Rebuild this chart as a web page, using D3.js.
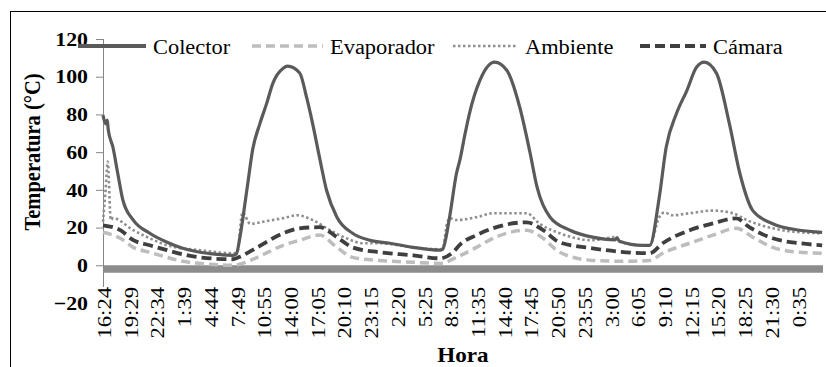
<!DOCTYPE html>
<html>
<head>
<meta charset="utf-8">
<script src="https://cdn.jsdelivr.net/npm/d3@7"></script>
<style>
  body { margin: 0; background: #fff; }
  text { font-family: "Liberation Serif", "Times New Roman", serif; }
</style>
</head>
<body>
<div id="chart"></div>
<script>
// hours elapsed since 16:24 and temperatures (°C)
var colectorH = [0, 0.3, 0.5, 0.6, 1.15, 1.7, 2.3, 3.5, 5.4, 7.4, 9.2, 11.2, 13.2, 15.0, 15.4, 15.8, 16.6, 17.3, 18.1, 18.9, 19.6, 20.8, 21.3, 22.7, 23.5, 24.2, 25.0, 25.8, 27.0, 28.8, 30.8, 33.1, 35.8, 38.9, 39.2, 40.0, 40.8, 41.2, 41.8, 42.3, 43.5, 45.2, 46.6, 48.1, 49.3, 50.1, 51.6, 53.9, 56.5, 59.1, 59.3, 59.6, 62.3, 63.1, 64.2, 65.0, 66.2, 67.4, 68.5, 69.4, 70.8, 72.3, 73.5, 75.0, 77.3, 80.4, 83.0];
var colectorT = [79.6, 75, 77, 72, 62.6, 48.8, 34.5, 23.9, 17, 12.2, 9, 6.9, 5.8, 5.3, 6, 14.8, 39.8, 62, 75, 86, 96.5, 104.5, 105.6, 102, 89, 75, 57, 39.8, 25.5, 17, 13.3, 11.7, 9.5, 8, 8.5, 25.5, 48.8, 56, 70, 80.6, 98, 107.7, 103.4, 83.8, 59.4, 41.4, 25.5, 18.6, 14.9, 13.5, 14.5, 12.8, 10.6, 10.6, 36, 62.6, 80.6, 92.8, 105, 107.7, 101.9, 75, 48.8, 29, 22, 18.6, 17.5];

var evaporadorH = [0, 2.0, 3.5, 5.4, 7.4, 9.2, 11.2, 15.0, 16.1, 17.8, 20.8, 22.7, 25.0, 27.0, 28.8, 31.9, 35.8, 38.9, 40.8, 43.1, 45.0, 48.9, 50.8, 52.7, 56.5, 60.4, 63.1, 64.6, 67.7, 70.4, 73.1, 75.0, 77.3, 80.4, 83.0];
var evaporadorT = [17.5, 14.3, 9.5, 6.9, 4.2, 2.1, 1, 0, 1, 4.2, 10.6, 13.3, 16, 9.5, 4.2, 2.6, 1.6, 1, 4.2, 9.5, 14.3, 18.6, 14.3, 6.9, 2.6, 2.1, 2.6, 6.4, 11.7, 16, 19.6, 14.9, 9.5, 6.9, 6.4];

var ambienteH = [0, 0.3, 0.55, 0.9, 1.15, 3.5, 5.4, 7.4, 11.2, 15.0, 15.5, 16.1, 17.0, 18.9, 20.8, 22.4, 24.2, 26.2, 28.1, 30.0, 31.9, 35.8, 38.9, 39.2, 39.7, 40.0, 40.8, 43.1, 45.0, 48.9, 50.4, 52.7, 56.5, 59.3, 59.6, 62.3, 63.1, 64.2, 64.8, 65.7, 67.7, 70.4, 72.7, 74.3, 77.3, 80.4, 83.0];
var ambienteT = [23, 40, 55, 24, 25, 18.6, 14.3, 10.6, 8, 6.4, 7, 28, 22, 23.5, 25, 26.5, 24, 18.6, 14.3, 11.7, 11.7, 9.5, 8.5, 9, 22, 25, 24, 25.5, 27.6, 27.6, 22, 17, 13.3, 15, 12.5, 10.6, 10.6, 25.5, 28, 26.5, 27.6, 29, 27.6, 24, 19.6, 17.5, 17];

var camaraH = [0, 2.0, 3.5, 5.4, 7.4, 9.2, 11.2, 15.0, 15.8, 17.8, 20.8, 22.7, 25.0, 27.0, 28.8, 31.9, 35.8, 38.9, 40.4, 41.2, 43.1, 45.0, 48.9, 50.8, 52.7, 56.5, 60.4, 63.1, 64.6, 67.7, 70.4, 73.1, 74.6, 77.3, 80.4, 83.0];
var camaraT = [21.2, 18.6, 13.3, 10.6, 8, 5.8, 4.2, 3.2, 4.5, 9.5, 17, 19.6, 20.2, 14.9, 9.5, 6.9, 5.3, 3.7, 6.9, 11, 16, 19.6, 22.8, 18.6, 12.2, 9, 6.9, 6.4, 11.7, 18.6, 22.2, 24.9, 20.2, 14.3, 11.7, 10.6];

var seriesNames = ["Colector", "Evaporador", "Ambiente", "Cámara"];
var hourLabels = ["16:24", "19:29", "22:34", "1:39", "4:44", "7:49", "10:55", "14:00", "17:05", "20:10", "23:15", "2:20", "5:25", "8:30", "11:35", "14:40", "17:45", "20:50", "23:55", "3:00", "6:05", "9:10", "12:15", "15:20", "18:25", "21:30", "0:35"];
var labelStep = 185 / 60; // hours between labels
var yTicks = [-20, 0, 20, 40, 60, 80, 100, 120];

var width = 826, height = 367;

var svg = d3.select("#chart").append("svg")
            .attr("width", width)
            .attr("height", height);

// chart frame
svg.append("rect")
   .attr("x", 10.5).attr("y", 11.5)
   .attr("width", 900).attr("height", 400)
   .attr("fill", "none").attr("stroke", "#000").attr("stroke-width", 1);

var x = d3.scaleLinear().domain([0, 83.1]).range([103, 823]);
var y = d3.scaleLinear().domain([-20, 120]).range([303, 39]);

// stretch text along its baseline
function stretch(sel, k) {
  sel.each(function() {
    var w = this.getComputedTextLength();
    d3.select(this).attr("textLength", w * k).attr("lengthAdjust", "spacingAndGlyphs");
  });
}

// thick band under zero
svg.append("line")
   .attr("x1", x(0)).attr("x2", 823)
   .attr("y1", y(0) + 3.75).attr("y2", y(0) + 3.75)
   .attr("stroke", "#8c8c8c").attr("stroke-width", 7.5);

// y axis
var yAxis = svg.append("g")
   .attr("transform", "translate(" + x(0) + ",0)")
   .call(d3.axisLeft(y).tickValues(yTicks).tickSize(7).tickPadding(8));
yAxis.select(".domain").remove();
yAxis.selectAll(".tick line").attr("stroke", "#868686")
     .filter(function(d) { return d === -20; }).remove();
yAxis.selectAll(".tick text")
     .attr("fill", "#000")
     .style("font-family", "'Liberation Serif', serif")
     .style("font-weight", "bold")
     .style("font-size", "19.5px")
     .call(stretch, 1.12);
svg.append("line")
   .attr("x1", x(0) + 0.5).attr("x2", x(0) + 0.5)
   .attr("y1", y(120)).attr("y2", 287)
   .attr("stroke", "#868686").attr("stroke-width", 1);

// x labels
svg.append("g").selectAll("text")
   .data(hourLabels)
   .enter()
   .append("text")
   .attr("transform", function(d, i) { return "translate(" + (x(i * labelStep) + 1) + ",287) rotate(-90)"; })
   .attr("text-anchor", "end")
   .attr("dy", "0.36em")
   .style("font-size", "19.5px")
   .text(function(d) { return d; })
   .call(stretch, 1.16);

// series lines
var line = d3.line()
             .x(function(d) { return x(d[0]); })
             .y(function(d) { return y(d[1]); })
             .curve(d3.curveMonotoneX);

function pairs(h, t) { return h.map(function(v, i) { return [v, t[i]]; }); }

var styles = [
  { color: "#5a5a5a", width: 3.2, dash: null },
  { color: "#bdbdbd", width: 3.5, dash: "9,5" },
  { color: "#8f8f8f", width: 2.6, dash: "2.5,2.5" },
  { color: "#3f3f3f", width: 3.8, dash: "10,5" }
];
var seriesData = [pairs(colectorH, colectorT), pairs(evaporadorH, evaporadorT),
                  pairs(ambienteH, ambienteT), pairs(camaraH, camaraT)];

// draw order: evaporador, ambiente, camara, colector on top
[1, 2, 3, 0].forEach(function(k) {
  svg.append("path")
     .datum(seriesData[k])
     .attr("d", line)
     .attr("fill", "none")
     .attr("stroke", styles[k].color)
     .attr("stroke-width", styles[k].width)
     .attr("stroke-dasharray", styles[k].dash);
});

// legend
var legendX = [78, 252, 453, 640];
var legendW = [68, 71, 65, 66];
var legend = svg.append("g").selectAll("g")
   .data(seriesNames)
   .enter()
   .append("g");
legend.append("line")
   .attr("x1", function(d, i) { return legendX[i]; })
   .attr("x2", function(d, i) { return legendX[i] + legendW[i]; })
   .attr("y1", 46).attr("y2", 46)
   .attr("stroke", function(d, i) { return styles[i].color; })
   .attr("stroke-width", function(d, i) { return i === 0 ? 4 : styles[i].width; })
   .attr("stroke-dasharray", function(d, i) { return styles[i].dash; });
legend.append("text")
   .attr("x", function(d, i) { return legendX[i] + legendW[i] + 7; })
   .attr("y", 54)
   .style("font-size", "20px")
   .text(function(d) { return d; })
   .call(stretch, 1.12);

// axis titles
svg.append("text")
   .attr("transform", "translate(40,152) rotate(-90) scale(1,1.12)")
   .attr("text-anchor", "middle")
   .style("font-size", "20.5px")
   .style("font-weight", "bold")
   .text("Temperatura (°C)");

svg.append("text")
   .attr("x", 463).attr("y", 362)
   .attr("text-anchor", "middle")
   .style("font-size", "21px")
   .style("font-weight", "bold")
   .text("Hora")
   .call(stretch, 1.1);
</script>
</body>
</html>
